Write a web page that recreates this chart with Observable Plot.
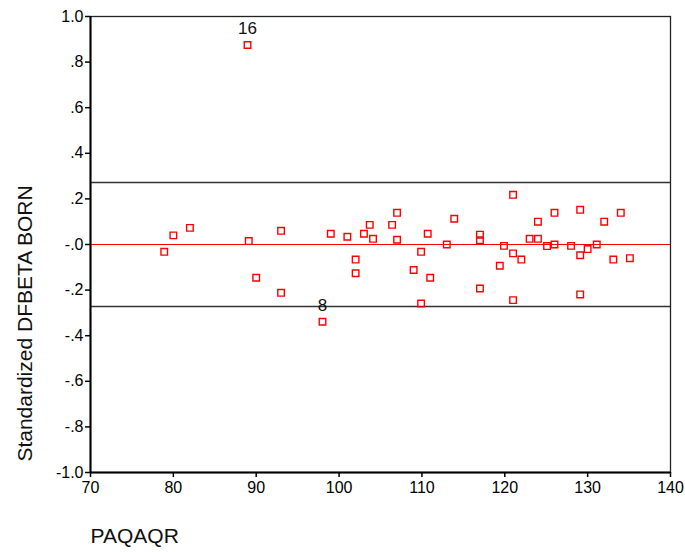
<!DOCTYPE html>
<html>
<head>
<meta charset="utf-8">
<script src="https://cdn.jsdelivr.net/npm/d3@7"></script>
<script src="https://cdn.jsdelivr.net/npm/@observablehq/plot@0.6"></script>
<style>
  html, body { margin: 0; padding: 0; background: #fff; }
</style>
</head>
<body>
<div id="chart"></div>
<script>
const paqaqr = [78.9, 80.0, 82.0, 88.95, 89.1, 90.0, 93.0, 93.0, 98.0, 99.0, 101.0, 102.0, 102.0, 103.0, 103.7, 104.1, 106.4, 107.0, 107.0, 109.0, 109.9, 109.9, 110.7, 111.0, 113.0, 113.9, 117.0, 117.0, 117.0, 119.4, 119.9, 121.0, 121.0, 121.0, 122.0, 123.0, 124.0, 124.0, 125.1, 126.0, 126.0, 128.0, 129.1, 129.1, 129.1, 130.0, 131.1, 132.0, 133.1, 134.0, 135.1];
const dfbeta = [-0.032, 0.040, 0.073, 0.875, 0.015, -0.146, 0.060, -0.212, -0.339, 0.047, 0.034, -0.066, -0.126, 0.047, 0.086, 0.025, 0.086, 0.139, 0.021, -0.112, -0.032, -0.259, 0.047, -0.146, 0.0, 0.113, 0.043, 0.019, -0.193, -0.093, -0.006, 0.218, -0.039, -0.244, -0.066, 0.025, 0.025, 0.100, -0.007, 0.0, 0.139, -0.006, 0.152, -0.047, -0.219, -0.020, 0.0, 0.100, -0.066, 0.139, -0.060];

const caseLabels = ["16", "8"];
const caseX = [88.95, 98.0];
const caseY = [0.875, -0.339];

const cutoff = 0.272;
const xTicks = [70, 80, 90, 100, 110, 120, 130, 140];
const yTicks = [1.0, 0.8, 0.6, 0.4, 0.2, 0.0, -0.2, -0.4, -0.6, -0.8, -1.0];
const yTickLabels = ["1.0", ".8", ".6", ".4", ".2", "-.0", "-.2", "-.4", "-.6", "-.8", "-1.0"];
const xTitle = "PAQAQR";
const yTitle = "Standardized DFBETA BORN";

const points = paqaqr.map((x, i) => ({x, y: dfbeta[i]}));
const labeled = caseLabels.map((t, i) => ({t, x: caseX[i], y: caseY[i]}));

const font = "'Liberation Sans', Arial, Helvetica, sans-serif";

const chart = Plot.plot({
  width: 685,
  height: 552,
  marginLeft: 90,
  marginRight: 15,
  marginTop: 16,
  marginBottom: 80,
  style: {fontFamily: font, fontSize: "16px", color: "#000", background: "#fff"},
  x: {domain: [70, 140], label: null},
  y: {domain: [-1, 1], label: null},
  marks: [
    Plot.frame({stroke: "#222", strokeWidth: 1.3}),
    Plot.ruleY([cutoff, -cutoff], {stroke: "#333", strokeWidth: 1.5}),
    Plot.ruleY([0], {stroke: "#ff0000", strokeWidth: 1.2}),
    Plot.ruleX([70], {stroke: "#000", strokeWidth: 2}),
    Plot.ruleY([-1], {stroke: "#000", strokeWidth: 2}),
    Plot.axisX({ticks: xTicks, tickSize: 5, tickPadding: 4, tickFormat: d => String(d), fontSize: 16, stroke: "#000", strokeWidth: 1.5}),
    Plot.axisY({ticks: yTicks, tickSize: 5, tickPadding: 2, tickFormat: d => yTickLabels[yTicks.findIndex(v => Math.abs(v - d) < 1e-9)], fontSize: 16, stroke: "#000", strokeWidth: 1.5}),
    Plot.dot(points, {x: "x", y: "y", symbol: "square", r: 3.7, stroke: "#ff0000", strokeWidth: 1.4, fill: "none"}),
    Plot.text(labeled, {x: "x", y: "y", text: "t", dy: -16, fontSize: 17, fill: "#111"}),
    Plot.text([yTitle], {frameAnchor: "left", rotate: -90, dx: -65, dy: 79, fontSize: 21, fill: "#111", textAnchor: "middle"}),
    Plot.text([xTitle], {frameAnchor: "bottom-left", dx: 0, dy: 70, fontSize: 21, fill: "#111", textAnchor: "start"})
  ]
});
document.getElementById("chart").appendChild(chart);
</script>
</body>
</html>
